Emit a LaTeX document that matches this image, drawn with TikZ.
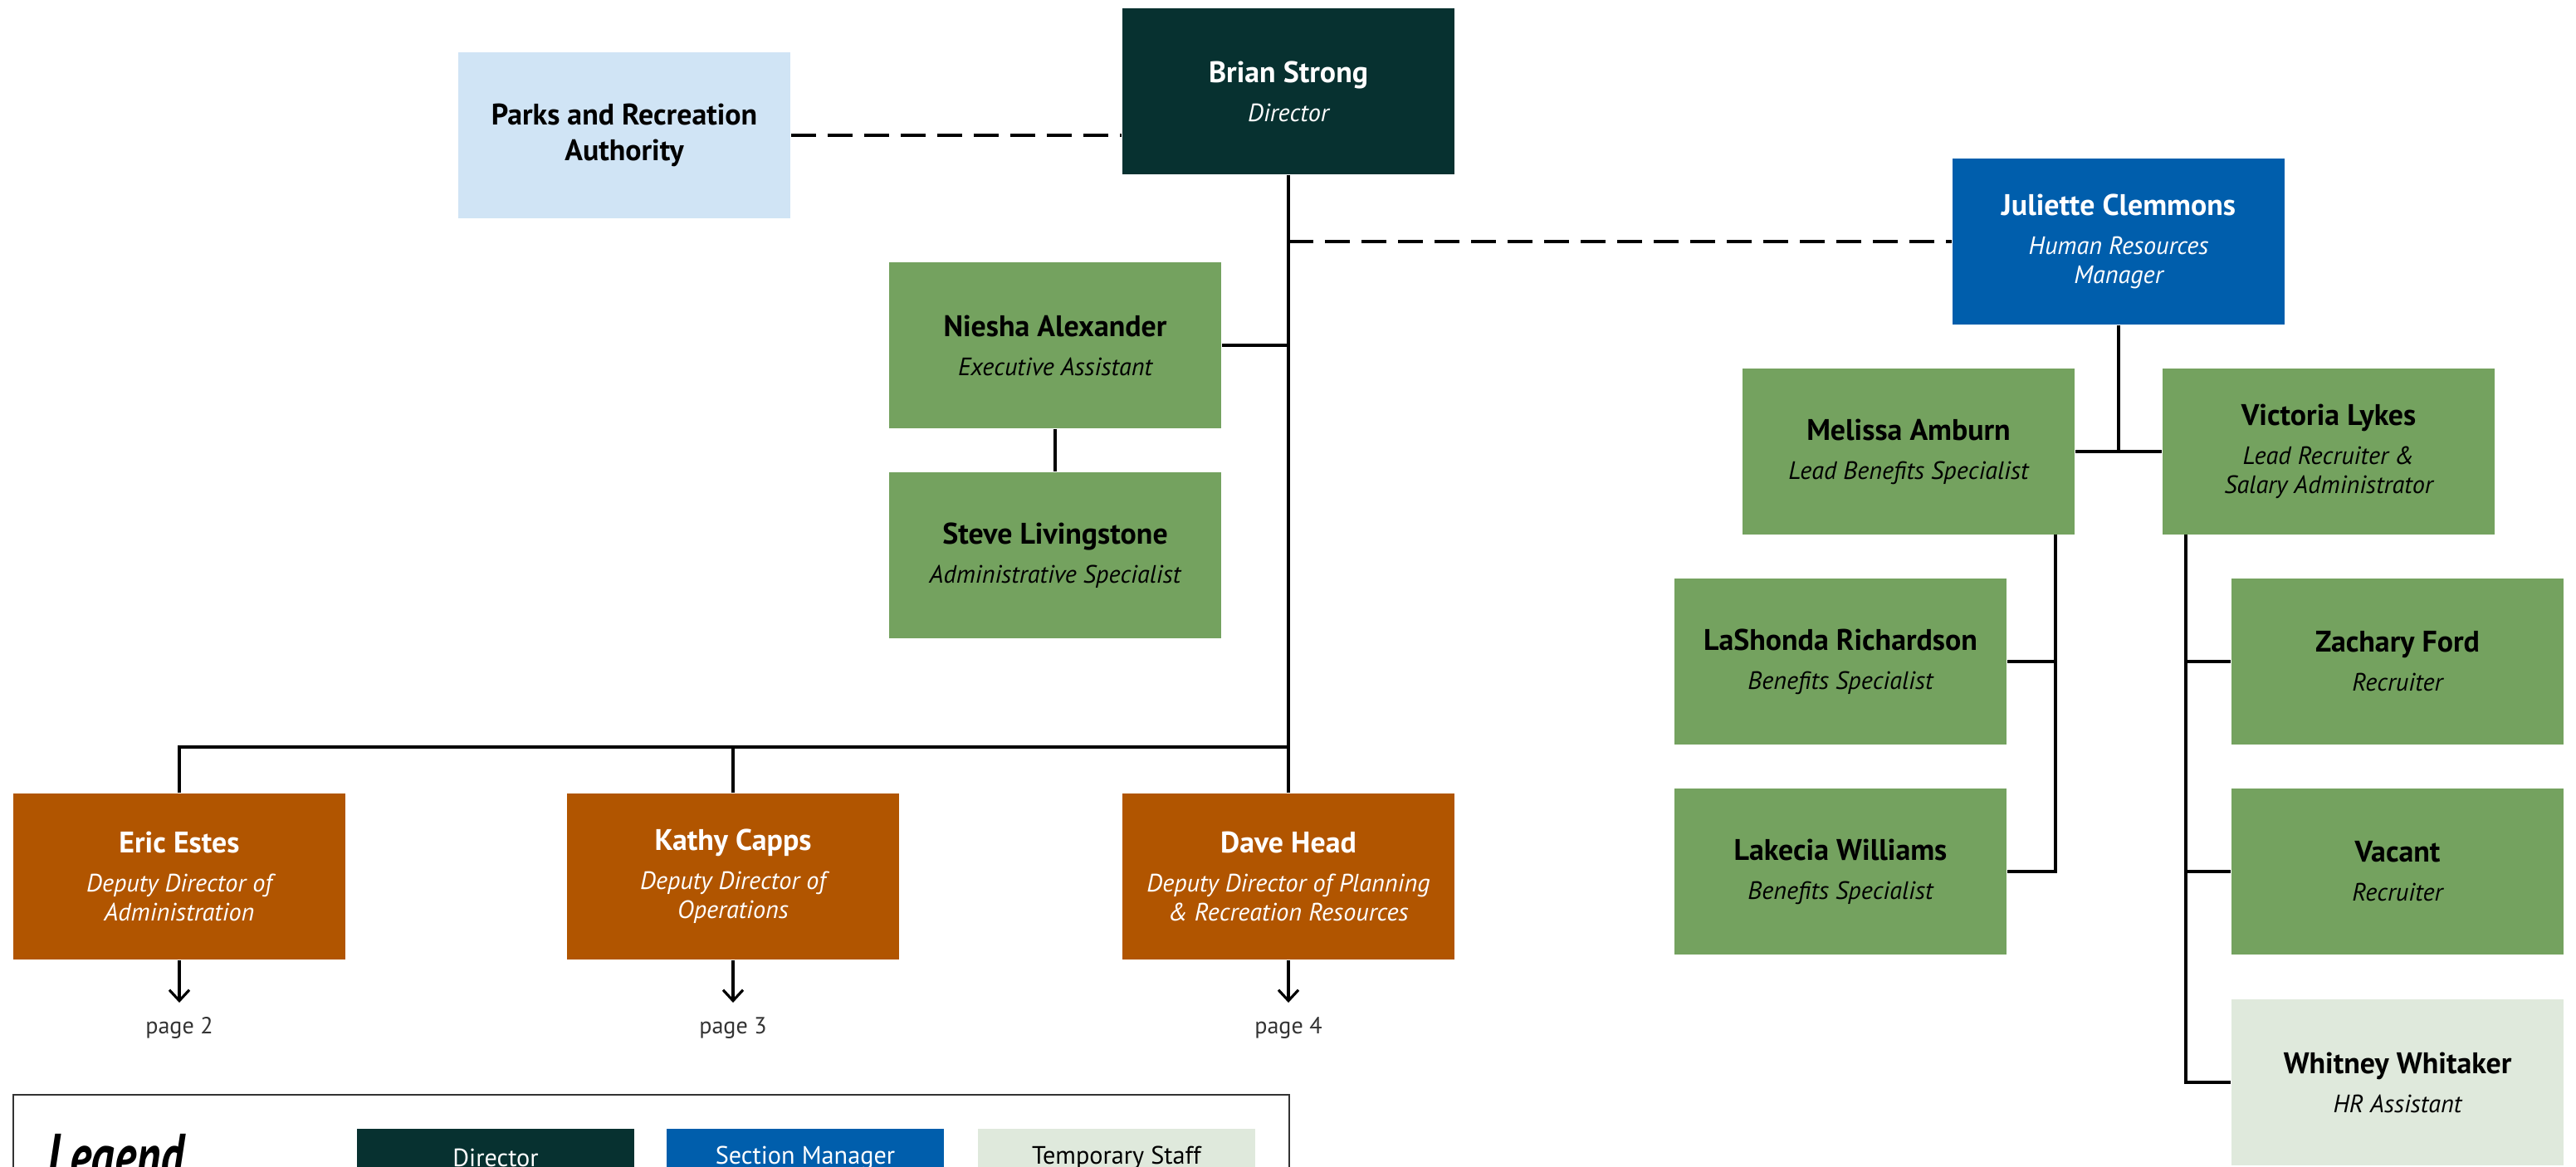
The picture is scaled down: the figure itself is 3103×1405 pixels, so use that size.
\documentclass[tikz,border=0pt]{standalone}
\usepackage{fontspec}
\setmainfont{PT Sans}
\usepackage{graphicx}
\usetikzlibrary{arrows.meta}
\definecolor{dirc}{HTML}{073130}
\definecolor{mgrc}{HTML}{005EAC}
\definecolor{depc}{HTML}{B15500}
\definecolor{staffc}{HTML}{74A25F}
\definecolor{boardc}{HTML}{D0E4F5}
\definecolor{tempc}{HTML}{DFE9DC}
\definecolor{framec}{HTML}{333333}
\newcommand\cardname{\fontsize{10.2}{12}\selectfont\bfseries}
\newcommand\cardsub{\fontsize{8.6}{9.96}\selectfont\mdseries\itshape}
\newcommand\card[2]{\begin{minipage}{3.9cm}\centering\cardname #1\par\vspace{3.4pt}\cardsub #2\par\end{minipage}}
\tikzset{
  box/.style={rectangle, minimum width=4cm, minimum height=2cm, inner sep=0pt, align=center},
  dirbox/.style={box, fill=dirc, text=white},
  mgrbox/.style={box, fill=mgrc, text=white},
  depbox/.style={box, fill=depc, text=white},
  staffbox/.style={box, fill=staffc, text=black},
  boardbox/.style={box, fill=boardc, text=black, font=\cardname},
  tempbox/.style={box, fill=tempc, text=black},
  conn/.style={line width=0.9pt, draw=black},
  dashconn/.style={line width=0.9pt, draw=black, dash pattern=on 0.3cm off 0.14cm},
  pagearrow/.style={line width=0.9pt, draw=black, -{Straight Barb[length=0.13cm,width=0.24cm,line width=0.9pt]}, shorten >=0.17cm},
  pagelabel/.style={inner sep=0pt, font=\fontsize{8}{10}\selectfont, text=black!80},
  legbox/.style={rectangle, minimum width=3.34cm, minimum height=0.7cm, inner sep=0pt, anchor=north, font=\fontsize{8.6}{10}\selectfont},
}
\begin{document}
\begin{tikzpicture}[x=0.01cm, y=-0.01cm]
\useasboundingbox (0,0) rectangle (3103,1405);
\clip (0,0) rectangle (3103,1405);

% nodes
\node[boardbox] (parks) at (752,163) {Parks and Recreation\\Authority};
\node[dirbox] (brian) at (1552,110) {\card{Brian Strong}{Director}};
\node[mgrbox] (juliette) at (2552,291) {\card{Juliette Clemmons}{Human Resources\\Manager}};
\node[staffbox] (niesha) at (1271,416) {\card{Niesha Alexander}{Executive Assistant}};
\node[staffbox] (steve) at (1271,669) {\card{Steve Livingstone}{Administrative Specialist}};
\node[depbox] (eric) at (216,1056) {\card{Eric Estes}{Deputy Director of\\Administration}};
\node[depbox] (kathy) at (883,1056) {\card{Kathy Capps}{Deputy Director of\\Operations}};
\node[depbox] (dave) at (1552,1056) {\card{Dave Head}{Deputy Director of Planning\\\& Recreation Resources}};
\node[staffbox] (melissa) at (2299,544) {\card{Melissa Amburn}{Lead Benefits Specialist}};
\node[staffbox] (victoria) at (2805,544) {\card{Victoria Lykes}{Lead Recruiter \&\\Salary Administrator}};
\node[staffbox] (lashonda) at (2217,797) {\card{LaShonda Richardson}{Benefits Specialist}};
\node[staffbox] (lakecia) at (2217,1050) {\card{Lakecia Williams}{Benefits Specialist}};
\node[staffbox] (zachary) at (2888,797) {\card{Zachary Ford}{Recruiter}};
\node[staffbox] (vacant) at (2888,1050) {\card{Vacant}{Recruiter}};
\node[tempbox] (whitney) at (2888,1304) {\card{Whitney Whitaker}{HR Assistant}};

\node[pagelabel, anchor=north] (p2) at (216,1225) {page 2};
\node[pagelabel, anchor=north] (p3) at (883,1225) {page 3};
\node[pagelabel, anchor=north] (p4) at (1552,1225) {page 4};

% helper coordinates
\coordinate (bus) at (1552,900);
\coordinate (mx) at (2476,644);
\coordinate (vx) at (2633,644);

% connectors
\draw[dashconn] (parks.east) -- (parks.east -| brian.west);
\draw[dashconn] (juliette.west -| brian.south) -- (juliette.west);
\draw[conn] (brian.south) -- (dave.north);
\draw[conn] (niesha.east) -- (niesha.east -| brian.south);
\draw[conn] (niesha.south) -- (steve.north);
\draw[conn] (eric.north) |- (bus);
\draw[conn] (kathy.north) -- (kathy.north |- bus);
\draw[pagearrow] (eric.south) -- (p2.north);
\draw[pagearrow] (kathy.south) -- (p3.north);
\draw[pagearrow] (dave.south) -- (p4.north);

\draw[conn] (juliette.south) -- (juliette.south |- melissa.east);
\draw[conn] (melissa.east) -- (victoria.west);
\draw[conn] (mx) |- (lakecia.east);
\draw[conn] (mx |- lashonda.east) -- (lashonda.east);
\draw[conn] (vx) |- (whitney.west);
\draw[conn] (vx |- zachary.west) -- (zachary.west);
\draw[conn] (vx |- vacant.west) -- (vacant.west);

% legend
\draw[line width=0.6pt, draw=framec] (16,1319) rectangle (1553,1700);
\node[anchor=base west, inner sep=0pt] (legendtitle) at (57,1420) {\scalebox{0.72}[1]{\fontsize{22}{22}\selectfont\bfseries\itshape Legend}};
\node[legbox, fill=dirc, text=white] (legdir) at (597,1359) {Director};
\node[legbox, fill=mgrc, text=white] (legmgr) at (970,1359) {Section Manager};
\node[legbox, fill=tempc, text=black] (legtemp) at (1345,1359) {Temporary Staff};
\end{tikzpicture}
\end{document}
